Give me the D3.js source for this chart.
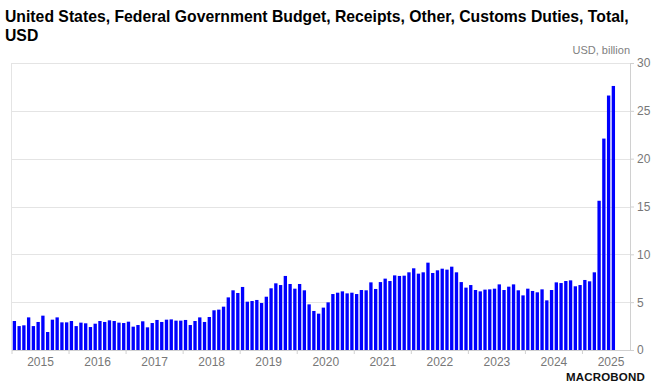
<!DOCTYPE html>
<html>
<head>
<meta charset="utf-8">
<script src="https://cdn.jsdelivr.net/npm/d3@7/dist/d3.min.js"></script>
<style>
  body { margin: 0; background: #fff; }
  svg { display: block; font-family: "Liberation Sans", Arial, sans-serif; }
</style>
</head>
<body>
<svg id="chart" width="652" height="388"></svg>
<script>
// monthly customs duties, USD billion, Jan 2015 .. Jul 2025
var values = [
  3.03, 2.50, 2.58, 3.41, 2.50, 2.93, 3.59, 1.88, 3.17, 3.41, 2.89, 2.89,
  3.03, 2.50, 2.86, 2.79, 2.40, 2.75, 3.03, 2.93, 3.10, 3.03, 2.86, 2.82,
  2.96, 2.44, 2.61, 3.00, 2.37, 2.82, 3.14, 2.93, 3.17, 3.20, 3.07, 3.07,
  3.14, 2.61, 3.03, 3.41, 2.93, 3.45, 4.15, 4.22, 4.53, 5.50, 6.24, 5.96,
  6.59, 5.05, 5.12, 5.23, 4.91, 5.57, 6.45, 6.97, 6.79, 7.74, 6.90, 6.41,
  6.90, 6.24, 4.77, 4.08, 3.80, 4.43, 4.98, 5.85, 5.99, 6.13, 5.92, 5.99,
  5.85, 6.27, 6.24, 7.07, 6.38, 7.10, 7.46, 7.21, 7.80, 7.74, 7.77, 8.12,
  8.54, 7.98, 8.12, 9.13, 8.05, 8.33, 8.50, 8.40, 8.71, 8.12, 7.10, 6.52,
  6.79, 6.27, 6.13, 6.31, 6.34, 6.41, 6.86, 6.27, 6.62, 6.86, 6.24, 5.71,
  6.41, 6.17, 6.03, 6.34, 5.19, 6.27, 7.07, 7.00, 7.21, 7.28, 6.66, 6.79,
  7.32, 7.18, 8.12, 15.6, 22.1, 26.6, 27.6
];
var years = ["2015", "2016", "2017", "2018", "2019", "2020", "2021", "2022", "2023", "2024", "2025"];
var yTicks = [0, 5, 10, 15, 20, 25, 30];
var titleLines = ["United States, Federal Government Budget, Receipts, Other, Customs Duties, Total,", "USD"];
var unitLabel = "USD, billion";

var margin = { top: 63, right: 22, bottom: 38, left: 12 };
var svg = d3.select("#chart");
var width = +svg.attr("width");
var height = +svg.attr("height");
var plotW = width - margin.left - margin.right;
var plotH = height - margin.top - margin.bottom;
var nSlots = 130; // axis runs a little past the last month

var x = d3.scaleBand()
    .domain(d3.range(nSlots))
    .range([0, plotW])
    .paddingInner(0.3)
    .paddingOuter(0.15);
var y = d3.scaleLinear().domain([0, 30]).range([plotH, 0]);

// title
var title = svg.append("text")
    .attr("x", 5).attr("y", 22)
    .style("font-size", "15.75px").style("font-weight", "bold").style("fill", "#000");
title.selectAll("tspan").data(titleLines).enter().append("tspan")
    .attr("x", 5)
    .attr("dy", function (d, i) { return i === 0 ? 0 : 19; })
    .text(function (d) { return d; });

var g = svg.append("g").attr("transform", "translate(" + margin.left + "," + margin.top + ")");

// grid
g.selectAll("line.grid").data(yTicks.slice(1)).enter().append("line")
    .attr("class", "grid")
    .attr("x1", 0).attr("x2", plotW)
    .attr("y1", function (d) { return Math.round(y(d)) + 0.5; })
    .attr("y2", function (d) { return Math.round(y(d)) + 0.5; })
    .style("stroke", "#e4e4e4");

// left border line
g.append("line").attr("x1", -0.5).attr("x2", -0.5).attr("y1", 0).attr("y2", plotH)
    .style("stroke", "#e4e4e4");

// bars
g.selectAll("rect.bar").data(values).enter().append("rect")
    .attr("class", "bar")
    .attr("x", function (d, i) { return x(i); })
    .attr("width", x.bandwidth())
    .attr("y", function (d) { return y(d); })
    .attr("height", function (d) { return plotH - y(d); })
    .style("fill", "#0000ff");

// right axis
var yAxis = d3.axisRight(y).tickValues(yTicks).tickSize(4).tickPadding(3);
var ya = g.append("g").attr("transform", "translate(" + plotW + ",0)").call(yAxis);
ya.select(".domain").style("stroke", "#d0d0d0");
ya.selectAll(".tick line").style("stroke", "#d0d0d0");
ya.selectAll(".tick text").style("font-size", "12px").style("fill", "#777")
    .style("font-family", "'Liberation Sans', Arial, sans-serif");

// bottom axis
var step = x.step();
var x0 = x(0) - step * x.paddingInner() / 2;
g.append("line").attr("x1", 0).attr("x2", plotW)
    .attr("y1", plotH + 0.5).attr("y2", plotH + 0.5)
    .style("stroke", "#d0d0d0");
g.selectAll("line.ytick").data(years).enter().append("line")
    .attr("class", "ytick")
    .attr("x1", function (d, i) { return x0 + i * 12 * step; })
    .attr("x2", function (d, i) { return x0 + i * 12 * step; })
    .attr("y1", plotH).attr("y2", plotH + 4)
    .style("stroke", "#d0d0d0");
g.selectAll("text.year").data(years).enter().append("text")
    .attr("class", "year")
    .attr("x", function (d, i) { return x0 + (i * 12 + 6) * step; })
    .attr("y", plotH + 16)
    .attr("text-anchor", "middle")
    .style("font-size", "12px").style("fill", "#777")
    .text(function (d) { return d; });

// unit label
svg.append("text")
    .attr("x", margin.left + plotW).attr("y", 54)
    .attr("text-anchor", "end")
    .style("font-size", "11px").style("fill", "#808080")
    .text(unitLabel);

// logo
svg.append("text")
    .attr("x", 645).attr("y", 381)
    .attr("text-anchor", "end")
    .style("font-size", "11.5px").style("font-weight", "900").style("fill", "#111")
    .style("letter-spacing", "0.2px")
    .text("MACROBOND");
</script>
</body>
</html>
